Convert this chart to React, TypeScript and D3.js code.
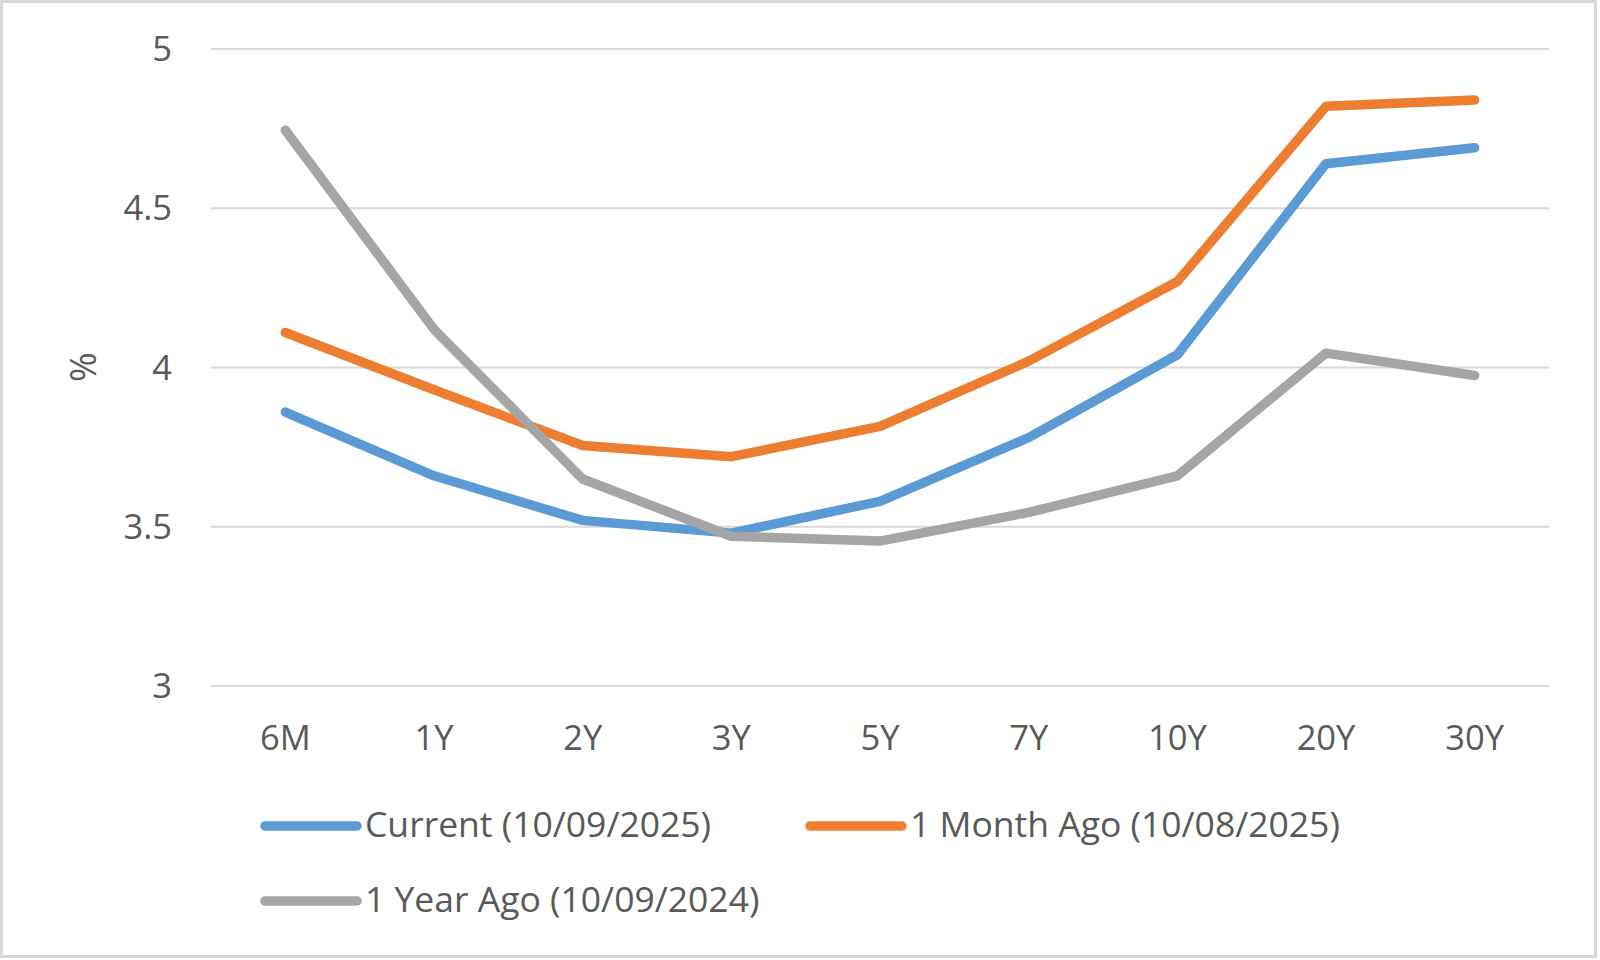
import React from "react";
import * as d3 from "d3";

const categories = ["6M", "1Y", "2Y", "3Y", "5Y", "7Y", "10Y", "20Y", "30Y"];
const currentValues = [3.86, 3.66, 3.52, 3.48, 3.58, 3.78, 4.04, 4.64, 4.69];
const monthAgoValues = [4.11, 3.93, 3.755, 3.72, 3.815, 4.02, 4.27, 4.82, 4.84];
const yearAgoValues = [4.745, 4.12, 3.65, 3.47, 3.455, 3.545, 3.66, 4.045, 3.975];
const yTicks = [3, 3.5, 4, 4.5, 5];
const seriesNames = ["Current (10/09/2025)", "1 Month Ago (10/08/2025)", "1 Year Ago (10/09/2024)"];
const seriesColors = ["#5B9BD5", "#ED7D31", "#A5A5A5"];

const W = 1600;
const H = 960;
const FONT = "'Open Sans', 'Noto Sans', sans-serif";
const TEXT = "#595959";

export default function App() {
  const x = d3.scalePoint<string>().domain(categories).range([211, 1549]).padding(0.5);
  const y = d3.scaleLinear().domain([3, 5]).range([686, 49]);
  const series = [currentValues, monthAgoValues, yearAgoValues];
  const line = d3
    .line<number>()
    .x((_, i) => x(categories[i]) as number)
    .y((d) => y(d));

  const legendItems = [
    { lx: 265, ly: 826, tx: 365 },
    { lx: 810, ly: 826, tx: 910 },
    { lx: 265, ly: 901, tx: 365 },
  ];

  return (
    <svg
      width={W}
      height={H}
      style={{ position: "absolute", left: 0, top: 0, background: "#fff" }}
      fontFamily={FONT}
    >
      <rect x={0} y={0} width={W} height={H} fill="#fff" />
      <rect x={1.5} y={1.5} width={1594} height={955} fill="none" stroke="#D9D9D9" strokeWidth={3} />

      {yTicks.map((t) => (
        <g key={t}>
          <line x1={211} x2={1549} y1={y(t)} y2={y(t)} stroke="#D9D9D9" strokeWidth={2} />
          <text x={172} y={y(t) + 12} textAnchor="end" fontSize={34.5} fill={TEXT}>
            {t}
          </text>
        </g>
      ))}

      <text
        transform={`translate(96,367) rotate(-90)`}
        textAnchor="middle"
        fontSize={36}
        fill={TEXT}
      >
        %
      </text>

      {categories.map((c) => (
        <text key={c} x={x(c)} y={750} textAnchor="middle" fontSize={34.5} fill={TEXT}>
          {c}
        </text>
      ))}

      {series.map((s, i) => (
        <path
          key={i}
          d={line(s) || ""}
          fill="none"
          stroke={seriesColors[i]}
          strokeWidth={9.5}
          strokeLinecap="round"
          strokeLinejoin="round"
        />
      ))}

      {legendItems.map((l, i) => (
        <g key={i}>
          <line
            x1={l.lx}
            x2={l.lx + 92}
            y1={l.ly}
            y2={l.ly}
            stroke={seriesColors[i]}
            strokeWidth={9.5}
            strokeLinecap="round"
          />
          <text x={l.tx} y={l.ly + 11} fontSize={35.5} fill={TEXT}>
            {seriesNames[i]}
          </text>
        </g>
      ))}
    </svg>
  );
}
